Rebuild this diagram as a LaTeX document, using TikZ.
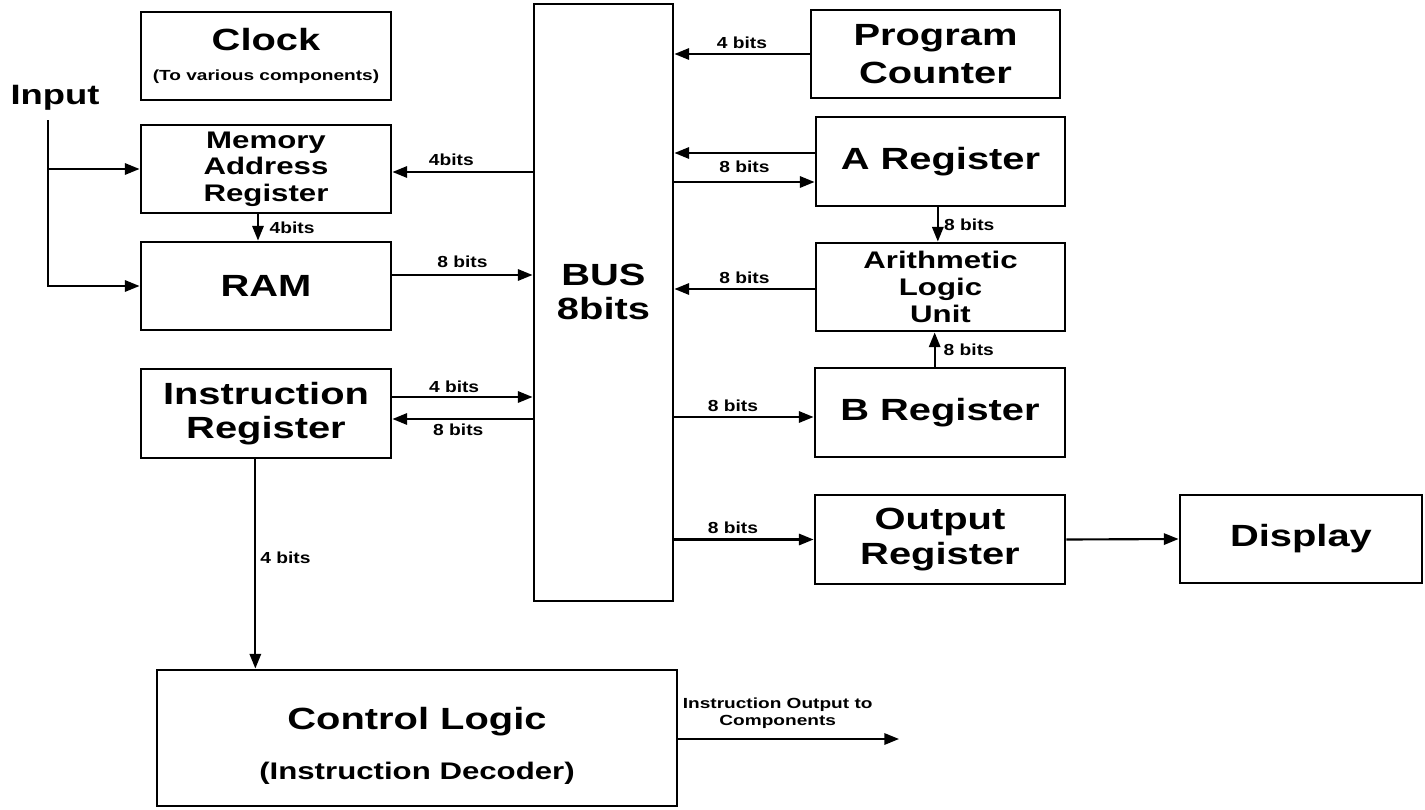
\documentclass[tikz,border=0pt]{standalone}
\usepackage{fontspec}
\setmainfont{Liberation Sans}
\newfontfamily\blkfont[FakeStretch=1.3]{Liberation Sans}
\newfontfamily\bitfont[FakeStretch=1.2]{Liberation Sans}
\usepackage{tikz}
\usetikzlibrary{arrows.meta,calc}
\tikzset{
    blk/.style={draw,line width=2.2pt,inner sep=0pt,align=center,
                font=\blkfont\bfseries\fontsize{23}{26}\selectfont},
    sblk/.style={blk,font=\blkfont\bfseries\fontsize{18}{20}\selectfont},
    sz/.style 2 args={minimum width=#1*0.75pt,minimum height=#2*0.75pt},
    arr/.style={-{Triangle[length=11pt,width=8.5pt]},line width=1.6pt},
    bits/.style={font=\bitfont\bfseries\fontsize{12}{14}\selectfont,inner sep=0pt},
}

\begin{document}
\begin{tikzpicture}[x=0.75pt,y=-0.75pt]
\useasboundingbox (0,0) rectangle (1425,810);

% left column
\node[blk,sz={250}{88}] (clock) at (266,56)
    {Clock\\[-3pt]{\fontsize{11}{13}\selectfont (To various components)}};
\node[inner sep=0pt,font=\blkfont\bfseries\fontsize{21}{24}\selectfont] (input) at (55,98) {Input};
\node[sblk,sz={250}{88}] (mar) at (266,169) {Memory\\Address\\Register};
\node[blk,sz={250}{88}] (ram) at (266,286) {RAM};
\node[blk,sz={250}{89}] (ir) at (266,413.5) {Instruction\\Register};
\node[blk,sz={520}{136}] (ctl) at (417,738)
    {\rule{0pt}{28pt}Control Logic\\[11.5pt]{\fontsize{18}{20}\selectfont(Instruction Decoder)}};

% bus
\node[blk,sz={139}{597}] (bus) at (603.5,302.5) {};
\node[blk,draw=none] (bustxt) at (603.5,292) {BUS\\8bits};

% right column
\node[blk,sz={249}{88}] (pc) at (935.5,54) {Program\\[2pt]Counter};
\node[blk,sz={249}{89}] (areg) at (940.5,161.5) {A Register};
\node[sblk,sz={249}{88}] (alu) at (940.5,287) {Arithmetic\\Logic\\Unit};
\node[blk,sz={250}{89}] (breg) at (940,412.5) {B Register};
\node[blk,sz={250}{89}] (oreg) at (940,539.5) {Output\\Register};
\node[blk,sz={242}{88}] (disp) at (1301,539) {Display};

\coordinate (inp) at (48,120);
\coordinate (cout) at (899,739);

% input lines
\draw[arr] (inp) |- (ram.west);
\draw[arr] (inp |- mar.west) -- (mar.west);

% left side
\draw[arr] (bus.west |- 0,172) -- (mar.east |- 0,172)
    node[bits,pos=0.58,above=4pt] {4bits};
\draw[arr] ([xshift=-6pt]mar.south) -- ([xshift=-6pt]mar.south |- ram.north)
    node[bits,midway,right=8pt] {4bits};
\draw[arr] (ram.east |- 0,275) -- (bus.west |- 0,275)
    node[bits,midway,above=5pt] {8 bits};
\draw[arr] (ir.east |- 0,397) -- (bus.west |- 0,397)
    node[bits,pos=0.44,above=2.5pt] {4 bits};
\draw[arr] (bus.west |- 0,419) -- (ir.east |- 0,419)
    node[bits,pos=0.53,below=3pt] {8 bits};
\draw[arr] ([xshift=-8pt]ir.south) -- ([xshift=-8pt]ir.south |- ctl.north)
    node[bits,pos=0.47,right=3pt] {4 bits};
\draw[arr] (ctl.east |- cout) -- (cout)
    node[pos=0.45,above=7pt,inner sep=0pt,align=center,
         font=\blkfont\bfseries\fontsize{11}{12.75}\selectfont]
    {Instruction Output to\\Components};

% right side
\draw[arr] (pc.west) -- (pc.west -| bus.east)
    node[bits,midway,above=3.5pt] {4 bits};
\draw[arr] (areg.west |- 0,153) -- (bus.east |- 0,153);
\draw[arr] (bus.east |- 0,182) -- (areg.west |- 0,182)
    node[bits,midway,above=6pt] {8 bits};
\draw[arr] ([xshift=-2pt]areg.south) -- ([xshift=-2pt]areg.south |- alu.north)
    node[bits,midway,right=4pt] {8 bits};
\draw[arr] (alu.west |- 0,289) -- (bus.east |- 0,289)
    node[bits,midway,above=3pt] {8 bits};
\draw[arr] ([xshift=-4pt]breg.north) -- ([xshift=-4pt]breg.north |- alu.south)
    node[bits,midway,right=6pt] {8 bits};
\draw[arr] (bus.east |- 0,417) -- (breg.west |- 0,417)
    node[bits,pos=0.42,above=3.5pt] {8 bits};
\draw[arr] (bus.east |- oreg.west) -- (oreg.west)
    node[bits,pos=0.42,above=3.5pt] {8 bits};
\draw[arr] (oreg.east) -- (disp.west);
\end{tikzpicture}
\end{document}
